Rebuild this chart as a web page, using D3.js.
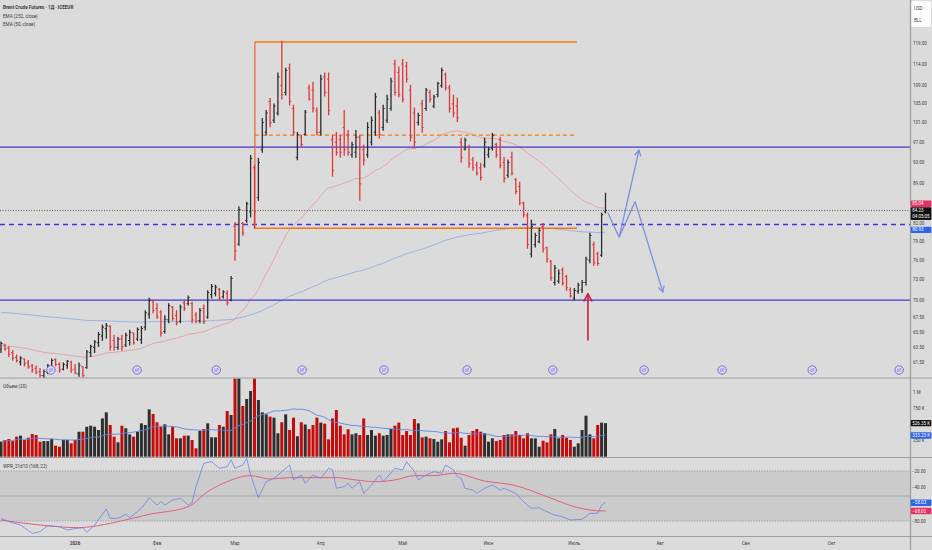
<!DOCTYPE html>
<html>
<head>
<meta charset="utf-8">
<script src="https://cdn.jsdelivr.net/npm/d3@7"></script>
<style>
body { margin: 0; background: #dbdbdb; }
svg { display: block; font-family: Roboto, "Liberation Sans", Arial, sans-serif; }
.lbl { font-size: 4.5px; fill: #3c3c3c; }
.legend { font-size: 4.6px; fill: #3a3a3a; }
</style>
</head>
<body>
<div id="chart"></div>
<script>

// Time axis: bar index of the first trading day of each month
var monthLabels = ["2026", "Фев", "Мар", "Апр", "Май", "Июн", "Июль", "Авг", "Сен", "Окт"]
var monthBars = [19, 40, 60, 82, 103, 125, 147, 169, 191, 213]

// Tick labels left visible by the badges on the right axis
var priceTicks = [119, 114, 109, 105, 101, 97, 93, 89, 82, 79, 76, 73, 70, 67.5, 65.5, 63.5, 61.5]
var volumeTicks = [1000, 750, 250]
var volumeTickLabels = ["1 M", "750 K", "250 K"]
var wprTicks = [-20, -40, -80]

// Daily bars: open, high, low, close
var bars = [
	[63.2,64.2,62.8,64.0],[63.8,63.9,63.1,63.3],[63.4,63.6,62.3,62.6],[62.8,63.1,61.8,62.1],[62.2,62.5,61.6,61.8],
	[61.6,62.3,61.2,62.1],[62.0,62.0,61.1,61.4],[61.5,61.8,60.8,61.0],[61.1,61.3,60.3,60.6],[60.8,61.1,60.1,60.3],
	[60.4,60.8,59.7,59.9],[59.9,60.6,59.6,60.4],[60.3,61.3,60.1,61.1],[61.0,62.0,60.8,61.8],[61.9,62.0,61.1,61.3],
	[61.3,61.5,60.3,60.6],[60.7,61.5,60.6,61.3],[61.2,61.8,60.8,61.7],[61.6,61.7,60.3,60.6],[60.7,61.3,60.1,60.2],
	[60.1,61.5,59.8,61.2],[61.0,61.0,59.7,59.9],[60.9,63.1,60.8,62.9],[62.8,63.8,62.3,63.6],[63.5,64.4,62.8,64.2],
	[64.1,65.5,63.6,65.2],[65.0,66.5,64.4,66.2],[66.0,66.7,64.7,66.4],[66.3,66.4,63.1,63.6],[64.4,65.1,63.1,63.5],
	[63.5,64.8,63.2,64.6],[64.6,65.1,63.1,63.6],[63.8,65.4,63.6,65.1],[64.4,65.8,63.8,65.5],[65.4,65.4,63.9,64.1],
	[64.6,66.1,64.4,65.9],[64.5,66.3,64.0,66.0],[66.2,68.5,65.8,68.2],[68.0,70.3,67.4,70.0],[69.9,70.0,68.2,68.5],
	[68.8,69.5,67.4,67.6],[68.3,68.5,65.0,65.4],[65.6,67.8,65.4,67.3],[67.2,69.5,66.8,69.2],[69.0,69.1,67.1,67.4],
	[67.8,68.5,66.5,66.8],[67.0,69.3,66.8,69.0],[69.6,70.0,68.5,68.8],[69.5,70.6,69.3,70.4],[69.5,69.7,66.8,67.2],
	[67.9,68.2,66.8,67.0],[67.1,68.8,66.8,68.5],[68.8,69.3,66.7,67.0],[67.6,71.4,67.4,71.1],[70.8,72.3,70.3,72.0],
	[71.0,72.2,70.6,71.9],[71.6,71.7,70.0,70.3],[70.5,71.4,70.3,71.2],[71.0,71.4,69.3,69.6],[70.0,73.5,69.9,73.2],
	[81.5,82.2,76.0,77.5],[78.6,84.9,78.4,84.4],[82.0,82.2,80.0,80.4],[82.5,85.7,82.2,85.4],[84.0,94.4,83.1,93.8],
	[92.0,92.5,81.2,84.0],[86.5,93.8,86.0,93.0],[95.5,101.9,95.0,101.0],[99.0,103.6,98.4,103.0],[105.5,106.2,100.1,101.0],
	[101.5,105.0,101.0,104.5],[103.0,111.9,102.6,111.0],[109.0,119.5,106.0,107.0],[107.5,113.0,106.9,112.5],[113.0,114.0,104.7,105.5],
	[104.0,104.7,98.4,99.0],[94.0,99.0,93.5,98.5],[98.0,98.4,96.2,96.5],[98.6,103.6,98.4,103.2],[108.5,109.1,105.8,106.0],
	[108.0,109.8,103.2,104.0],[103.5,104.1,98.4,99.0],[99.0,111.4,98.4,110.5],[111.0,111.9,106.7,107.5],[110.5,111.9,102.6,103.5],
	[97.5,98.4,90.4,91.5],[97.0,99.0,94.4,95.0],[97.5,98.4,94.0,95.0],[100.0,103.6,94.4,95.5],[98.5,99.4,94.4,95.0],
	[94.5,97.0,94.0,96.5],[95.0,99.4,94.0,98.0],[98.0,98.4,86.0,89.0],[95.5,96.4,92.5,93.5],[94.5,101.0,94.0,100.0],
	[97.0,102.2,96.4,101.5],[99.0,107.3,98.4,106.5],[103.0,103.6,97.8,98.5],[100.0,104.7,99.4,104.0],[101.5,106.9,101.0,106.0],
	[104.0,110.7,103.6,110.0],[114.0,114.9,106.9,107.5],[112.0,113.3,106.5,107.0],[114.0,115.1,105.4,106.0],[113.5,114.4,109.8,110.5],
	[108.0,109.1,97.2,98.0],[103.0,104.1,95.8,97.0],[101.0,103.0,100.5,102.5],[105.0,105.8,99.0,100.0],[104.0,108.4,103.6,108.0],
	[107.5,108.0,105.4,106.0],[104.5,106.9,104.1,106.5],[107.0,109.8,106.5,109.5],[109.0,113.0,108.6,112.5],[111.5,111.9,108.0,108.5],
	[108.5,109.1,103.2,104.0],[105.0,106.9,102.2,103.0],[104.5,106.3,101.2,102.0],[97.0,97.8,93.1,94.0],[95.6,97.8,95.4,97.4],
	[96.0,96.4,92.1,92.8],[93.5,94.0,91.5,92.0],[92.5,93.1,90.6,91.0],[92.0,92.9,89.7,90.2],[92.5,97.8,92.1,97.0],
	[94.5,96.0,94.0,95.6],[95.8,98.8,95.4,98.4],[96.5,96.8,94.0,94.5],[97.5,98.0,92.0,92.5],[93.0,94.0,89.3,90.0],
	[90.6,93.5,90.2,93.0],[94.0,95.0,90.6,91.0],[89.8,90.0,87.2,87.6],[88.5,89.3,85.2,85.6],[85.5,85.7,83.1,83.5],
	[83.3,83.8,77.9,78.5],[77.0,82.6,76.5,81.5],[78.5,80.4,78.1,80.0],[79.0,81.2,78.8,80.8],[81.5,82.0,77.3,77.8],
	[78.0,78.1,75.7,76.2],[75.8,76.0,72.9,73.3],[72.6,75.2,72.2,74.8],[72.8,74.5,72.5,74.0],[74.5,74.8,72.2,72.5],
	[73.5,73.7,71.4,71.8],[71.5,71.8,70.4,70.6],[70.3,71.7,70.0,71.4],[71.3,72.5,71.0,72.2],[71.5,72.9,71.1,72.6],
	[72.6,76.5,72.2,76.2],[76.0,80.4,75.6,80.0],[78.5,78.9,75.2,75.6],[77.0,77.3,75.2,75.5],[76.8,83.8,76.6,83.5],
	[84.0,87.3,83.8,84.23]
]

// Volume, thousands of contracts
var volumes = [
	235,260,277,245,314,330,262,298,355,340,235,245,245,277,173,157,262,262,210,262,
	392,392,470,486,470,418,600,695,497,314,225,486,445,350,314,392,523,497,742,670,
	540,470,507,350,470,288,288,330,330,262,131,403,434,523,304,304,497,470,716,654,
	1300,1240,794,904,1030,1300,888,695,664,628,612,367,540,664,418,612,320,540,504,432,
	497,612,534,518,272,600,732,486,350,430,350,367,340,600,340,418,330,367,330,340,
	434,486,534,340,403,340,590,523,304,314,288,277,235,272,403,225,445,455,298,173,
	340,403,434,392,367,235,288,245,262,340,350,350,403,340,288,367,288,288,157,251,
	225,350,434,288,340,298,262,157,210,418,643,350,288,497,534,526
]

// Williams %R and its smoothing, read as [bar, value]
var wprLine = [
	[0,-76.8],[2,-80.8],[5,-84.8],[8,-94.8],[10,-92.8],[12,-85.6],[15,-86.8],[17,-90.8],[19,-89],[21,-88],
	[22,-93.6],[24,-84.8],[27,-65.6],[28,-76.8],[30,-76.8],[32,-72],[33,-76],[35,-68.8],[36,-64.8],[38,-52],
	[40,-60.8],[41,-56.8],[42,-60.8],[44,-54.8],[46,-52.8],[48,-60.8],[49,-58],[50,-38.8],[52,-10.8],[54,-8.8],
	[56,-16.8],[58,-14.8],[59,-6.8],[60,-16.8],[62,-12.8],[63,-4.8],[64,-24.8],[66,-52],[68,-32.8],[70,-28.8],
	[72,-20.8],[74,-12.8],[75,-30.8],[77,-24.8],[78,-34.8],[80,-24.8],[82,-28.8],[84,-16.8],[85,-18.8],[86,-40.8],
	[88,-38.8],[89,-34.8],[90,-40.8],[92,-32.8],[93,-46.8],[95,-36.8],[97,-24.8],[98,-32.8],[101,-16.8],[103,-18.8],
	[104,-8.8],[106,-20.8],[107,-30.8],[109,-24.8],[111,-20.8],[113,-22.8],[114,-12.8],[116,-18.8],[117,-26.8],[118,-28.8],
	[119,-40.8],[121,-42.8],[122,-46.8],[124,-40.8],[126,-36.8],[128,-42.8],[129,-40.8],[132,-46.8],[134,-56.8],[136,-64.8],
	[138,-64],[139,-66.8],[142,-72.8],[144,-74.8],[146,-78.8],[149,-78],[151,-70.8],[153,-70.8],[154,-60.8],[155,-58]
]
var wprSignal = [
	[0,-78.8],[10,-84.8],[20,-88],[23,-86.8],[30,-80.8],[38,-72],[48,-62.8],[53,-44.8],[58,-32.8],[64,-25.6],
	[69,-29.6],[74,-28],[81,-28],[86,-28],[91,-30.8],[96,-32.8],[101,-30.8],[106,-25.6],[111,-25.6],[116,-22.8],
	[124,-32],[132,-37.6],[140,-50.8],[147,-62.8],[151,-66.8],[155,-68]
]

var ema252Start = 68.3
var ema50Start = 63.7

// Drawn levels and shapes (prices, bar indices)
var solidLevels = [96.0, 70.0]
var dashedLevel = 82.0
var lastPrice = 84.23
var boxBars = [65.1, 147.7]
var boxPrices = [119.3, 81.2]
var boxMid = 98.4
var eventBars = [12.8, 34.9, 55.2, 77.2, 98.2, 119.5, 141.5, 164.9, 184.9, 208, 230.3]
var upArrow = [[150.5, 64.4], [150.5, 70.9]]
var pathUp = [[155.6, 83.85], [158.5, 79.7], [163.6, 95.4]]
var pathDown = [[158.5, 79.7], [162.6, 85.8], [169.7, 71.2]]

// Axis badges
var priceBadges = { ema50: "85.04", ema252: "80.93", last: "84.23", timer: "04:05:05" }
var volumeBadges = { last: 526.35, ma: 333.23 }
var wprBadges = { line: -58.03, signal: -68.02 }


var width = 932, height = 550, axisX = 910

var svg = d3.select("#chart").append("svg")
	.attr("width", width)
	.attr("height", height)

svg.append("rect").attr("width", width).attr("height", height).attr("fill", "#dbdbdb")

var defs = svg.append("defs")

function addClip(id, y0, y1) {
	defs.append("clipPath").attr("id", id)
		.append("rect").attr("x", 0).attr("y", y0).attr("width", axisX).attr("height", y1 - y0)
}

addClip("clipMain", 0, 378)
addClip("clipVol", 378.5, 457)
addClip("clipWpr", 458, 536)

var x = d3.scaleLinear().domain([0, 233]).range([1, 1 + 233 * 3.9])
var y = d3.scaleLog().domain([59.6, 130.1]).range([378, 0])
var yVol = d3.scaleLinear().domain([0, 1000]).range([456.7, 392.9])
var yWpr = d3.scaleLinear().domain([-100, 0]).range([537.7, 454.3])

var up = "#2b2b2b", down = "#e0353b"
var levelBlue = "#4636c4"

function ema(values, period, start) {
	var k = 2 / (period + 1), prev = start
	return values.map(function(v) { prev = prev + k * (v - prev); return prev })
}

var closes = bars.map(function(d) { return d[3] })
var ema252 = ema(closes, 252, ema252Start)
var ema50 = ema(closes, 50, ema50Start)

// Set up the price pane

var main = svg.append("g").attr("clip-path", "url(#clipMain)")

var lineIdx = d3.line().x(function(d, i) { return x(i) }).y(function(d) { return y(d) })

main.append("path").datum(ema252)
	.attr("d", lineIdx).attr("fill", "none")
	.attr("stroke", "#7f9be3").attr("stroke-width", 0.8).attr("opacity", 0.85)

main.append("path").datum(ema50)
	.attr("d", lineIdx).attr("fill", "none")
	.attr("stroke", "#e38a95").attr("stroke-width", 0.8).attr("opacity", 0.85)

solidLevels.forEach(function(p) {
	main.append("line")
		.attr("x1", 0).attr("x2", axisX).attr("y1", y(p)).attr("y2", y(p))
		.attr("stroke", levelBlue).attr("stroke-width", 1.3)
})

main.append("line")
	.attr("x1", 0).attr("x2", axisX)
	.attr("y1", Math.round(y(dashedLevel)) + 0.5).attr("y2", Math.round(y(dashedLevel)) + 0.5)
	.attr("stroke", "#3d33e6").attr("stroke-width", 1.6).attr("stroke-dasharray", "5,4")

main.append("line")
	.attr("x1", 0).attr("x2", axisX).attr("y1", y(lastPrice)).attr("y2", y(lastPrice))
	.attr("stroke", "#333").attr("stroke-width", 0.8).attr("stroke-dasharray", "1,1.6")

// Orange range box

var orange = "#f27a0a"

boxPrices.forEach(function(p) {
	main.append("line")
		.attr("x1", x(boxBars[0])).attr("x2", x(boxBars[1]))
		.attr("y1", y(p)).attr("y2", y(p))
		.attr("stroke", orange).attr("stroke-width", 1.4)
})

main.append("line")
	.attr("x1", x(boxBars[0])).attr("x2", x(boxBars[0]))
	.attr("y1", y(boxPrices[0])).attr("y2", y(boxPrices[1]))
	.attr("stroke", "#ee6a3a").attr("stroke-width", 1.3)

main.append("line")
	.attr("x1", x(boxBars[0])).attr("x2", x(boxBars[1]))
	.attr("y1", y(boxMid)).attr("y2", y(boxMid))
	.attr("stroke", orange).attr("stroke-width", 1.3).attr("stroke-dasharray", "4,3")

// OHLC bars

var barG = main.selectAll(".bar")
	.data(bars)
	.enter()
	.append("g")
	.attr("class", "bar")
	.attr("stroke", function(d) { return d[3] >= d[0] ? up : down })
	.attr("stroke-width", 1.3)

barG.append("line")
	.attr("x1", function(d, i) { return x(i) }).attr("x2", function(d, i) { return x(i) })
	.attr("y1", function(d) { return y(d[1]) - 0.4 }).attr("y2", function(d) { return y(d[2]) + 0.4 })

barG.append("line")
	.attr("x1", function(d, i) { return x(i) - 1.6 }).attr("x2", function(d, i) { return x(i) })
	.attr("y1", function(d) { return y(d[0]) }).attr("y2", function(d) { return y(d[0]) })
	.attr("stroke-width", 1)

barG.append("line")
	.attr("x1", function(d, i) { return x(i) }).attr("x2", function(d, i) { return x(i) + 1.6 })
	.attr("y1", function(d) { return y(d[3]) }).attr("y2", function(d) { return y(d[3]) })
	.attr("stroke-width", 1)

// Annotations

function arrowHead(g, p0, p1, size, color, w) {
	var a = Math.atan2(p1[1] - p0[1], p1[0] - p0[0])
	;[-0.5, 0.5].forEach(function(s) {
		g.append("line")
			.attr("x1", p1[0]).attr("y1", p1[1])
			.attr("x2", p1[0] - size * Math.cos(a + s)).attr("y2", p1[1] - size * Math.sin(a + s))
			.attr("stroke", color).attr("stroke-width", w).attr("stroke-linecap", "round")
	})
}

var lineXY = d3.line().x(function(d) { return x(d[0]) }).y(function(d) { return y(d[1]) })

var projColor = "#7d8fe0"

;[pathUp, pathDown].forEach(function(pts) {
	main.append("path").datum(pts)
		.attr("d", lineXY).attr("fill", "none")
		.attr("stroke", projColor).attr("stroke-width", 1.3).attr("stroke-linejoin", "round")
	var n = pts.length
	arrowHead(main, [x(pts[n - 2][0]), y(pts[n - 2][1])], [x(pts[n - 1][0]), y(pts[n - 1][1])], 6, projColor, 1.3)
})

main.append("path").datum(upArrow)
	.attr("d", lineXY).attr("fill", "none")
	.attr("stroke", "#cc1f3a").attr("stroke-width", 1.6)

arrowHead(main, [x(upArrow[0][0]), y(upArrow[0][1])], [x(upArrow[1][0]), y(upArrow[1][1])], 8, "#cc1f3a", 1.6)

// Contract roll markers at the bottom of the pane

var ev = main.selectAll(".ev")
	.data(eventBars)
	.enter()
	.append("g")
	.attr("transform", function(d) { return "translate(" + x(d) + ",370)" })

ev.append("circle").attr("r", 4.2).attr("fill", "#dedcf2").attr("stroke", "#6d5fd3").attr("stroke-width", 0.9)
ev.append("path").attr("d", "M-2,-0.8 L2,-0.8 M-2,0.9 L2,0.9 M1,-1.8 L2,-0.8 M-1,1.9 L-2,0.9")
	.attr("stroke", "#6d5fd3").attr("stroke-width", 0.6).attr("fill", "none")

// Set up the volume pane

var vol = svg.append("g").attr("clip-path", "url(#clipVol)")

vol.selectAll(".vbar")
	.data(volumes)
	.enter()
	.append("rect")
	.attr("x", function(d, i) { return x(i) - 1.5 })
	.attr("width", 3)
	.attr("y", function(d) { return yVol(d) })
	.attr("height", function(d) { return yVol(0) - yVol(d) })
	.attr("fill", function(d, i) { return bars[i][3] >= bars[i][0] ? "#2e2e2e" : "#c70a0a" })

var volMA = volumes.map(function(v, i) { return d3.mean(volumes.slice(Math.max(0, i - 19), i + 1)) })

vol.append("path").datum(volMA)
	.attr("d", d3.line().x(function(d, i) { return x(i) }).y(function(d) { return yVol(d) }))
	.attr("fill", "none").attr("stroke", "#5b86e8").attr("stroke-width", 0.9)

// Set up the Williams %R pane

var wpr = svg.append("g").attr("clip-path", "url(#clipWpr)")

wpr.append("rect")
	.attr("x", 0).attr("width", axisX)
	.attr("y", yWpr(-20)).attr("height", yWpr(-80) - yWpr(-20))
	.attr("fill", "#cbcbcb")

;[-20, -80].forEach(function(v) {
	wpr.append("line").attr("x1", 0).attr("x2", axisX).attr("y1", yWpr(v)).attr("y2", yWpr(v))
		.attr("stroke", "#8a8a8a").attr("stroke-width", 0.7).attr("stroke-dasharray", "1.2,1.5")
})

wpr.append("line").attr("x1", 0).attr("x2", axisX).attr("y1", yWpr(-50)).attr("y2", yWpr(-50))
	.attr("stroke", "#a3a3a3").attr("stroke-width", 0.9)

var wprPath = d3.line().x(function(d) { return x(d[0]) }).y(function(d) { return yWpr(d[1]) })

wpr.append("path").datum(wprSignal)
	.attr("d", wprPath.curve(d3.curveMonotoneX)).attr("fill", "none")
	.attr("stroke", "#e0607a").attr("stroke-width", 1)

wpr.append("path").datum(wprLine)
	.attr("d", wprPath.curve(d3.curveLinear)).attr("fill", "none")
	.attr("stroke", "#6f80e6").attr("stroke-width", 0.8)

// Separators

;[378, 457.5, 536.5].forEach(function(v) {
	svg.append("line").attr("x1", 0).attr("x2", width).attr("y1", v).attr("y2", v)
		.attr("stroke", "#9e9e9e").attr("stroke-width", 1)
})

svg.append("line").attr("x1", axisX + 0.5).attr("x2", axisX + 0.5).attr("y1", 0).attr("y2", height)
	.attr("stroke", "#9a9a9a").attr("stroke-width", 1.2)

// Legends

svg.append("text").attr("class", "legend").attr("x", 3).attr("y", 7.5).attr("dy", "0.35em")
	.attr("font-weight", "bold").attr("fill", "#222").text("Brent Crude Futures · 1Д · ICEEUR")
svg.append("text").attr("class", "legend").attr("x", 3).attr("y", 16).attr("dy", "0.35em").text("EMA (252, close)")
svg.append("text").attr("class", "legend").attr("x", 3).attr("y", 24.4).attr("dy", "0.35em").text("EMA (50, close)")
svg.append("text").attr("class", "legend").attr("x", 3).attr("y", 386.5).attr("dy", "0.35em").text("Объем (20)")
svg.append("text").attr("class", "legend").attr("x", 3).attr("y", 466).attr("dy", "0.35em").text("WPR_21d13 (168, 22)")

// Time axis

svg.selectAll(".month")
	.data(monthLabels)
	.enter()
	.append("text")
	.attr("class", "lbl")
	.attr("x", function(d, i) { return x(monthBars[i]) })
	.attr("y", 543.5)
	.attr("dy", "0.35em")
	.attr("text-anchor", "middle")
	.attr("font-weight", function(d, i) { return i === 0 ? "bold" : "normal" })
	.text(function(d) { return d })

// Right axes

var axisG = svg.append("g")

axisG.selectAll(".pt")
	.data(priceTicks)
	.enter()
	.append("text")
	.attr("class", "lbl")
	.attr("x", 913).attr("y", function(d) { return y(d) }).attr("dy", "0.35em")
	.text(function(d) { return d3.format(".2f")(d) })

axisG.selectAll(".vt")
	.data(volumeTicks)
	.enter()
	.append("text")
	.attr("class", "lbl")
	.attr("x", 913).attr("y", function(d) { return yVol(d) }).attr("dy", "0.35em")
	.text(function(d, i) { return volumeTickLabels[i] })

axisG.selectAll(".wt")
	.data(wprTicks)
	.enter()
	.append("text")
	.attr("class", "lbl")
	.attr("x", 912).attr("y", function(d) { return yWpr(d) }).attr("dy", "0.35em")
	.text(function(d) { return d3.format(".2f")(d).replace("-", "\u2212") })

function badge(yc, lines, fill) {
	var h = 6.4 * lines.length
	axisG.append("rect")
		.attr("x", 910.8).attr("y", yc - 3.2).attr("width", 20.6).attr("height", h)
		.attr("rx", 0.8).attr("fill", fill)
	lines.forEach(function(t, i) {
		axisG.append("text").attr("class", "lbl").style("fill", "#fff")
			.attr("x", 912.3).attr("y", yc + i * 5.6).attr("dy", "0.35em").text(t)
	})
	return yc - 3.2
}

var lastTop = badge(y(lastPrice), [priceBadges.last, priceBadges.timer], "#111")
badge(lastTop - 3.6, [priceBadges.ema50], "#ec2f63")
badge(y(+priceBadges.ema252), [priceBadges.ema252], "#2f63e8")

badge(yVol(volumeBadges.last), [volumeBadges.last + " K"], "#111")
badge(yVol(volumeBadges.ma), [volumeBadges.ma + " K"], "#2f63e8")

badge(yWpr(wprBadges.line), [d3.format(".2f")(wprBadges.line).replace("-", "\u2212")], "#2f63e8")
badge(yWpr(wprBadges.signal), [d3.format(".2f")(wprBadges.signal).replace("-", "\u2212")], "#ec2f63")

// Currency and unit box

axisG.append("rect").attr("x", 911.5).attr("y", 1).attr("width", 19.5).attr("height", 26)
	.attr("rx", 1.5).attr("fill", "#fff")
axisG.append("text").attr("class", "lbl").attr("x", 914).attr("y", 8).attr("dy", "0.35em").text("USD")
axisG.append("text").attr("class", "lbl").attr("x", 914).attr("y", 20).attr("dy", "0.35em").text("BLL")

</script>
</body>
</html>
